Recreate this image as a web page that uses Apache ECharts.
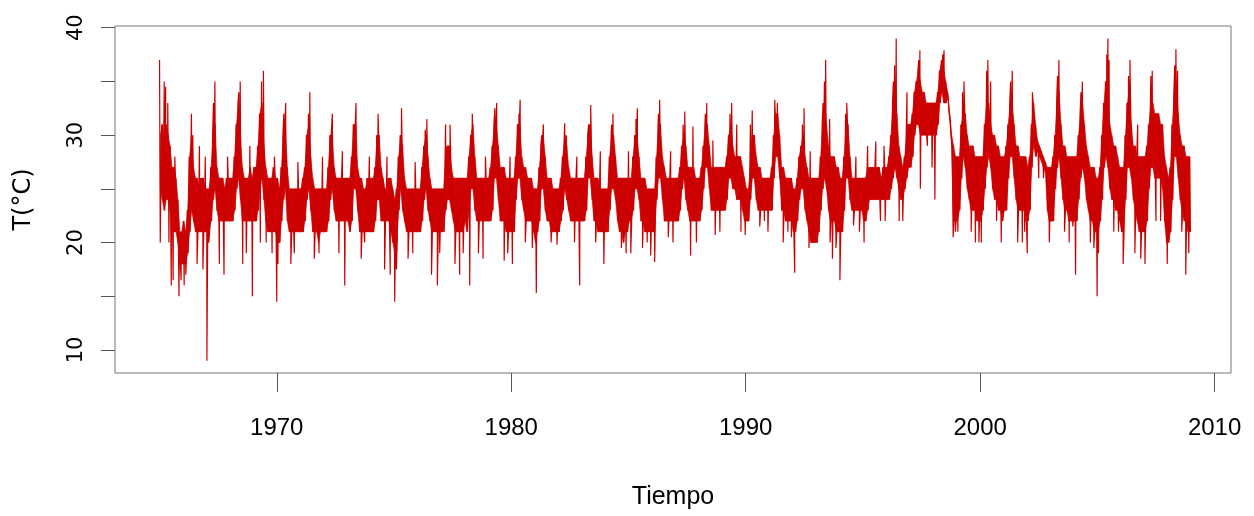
<!DOCTYPE html>
<html><head><meta charset="utf-8">
<script src="https://cdn.jsdelivr.net/npm/echarts@6/dist/echarts.min.js"></script>
<style>html,body{margin:0;padding:0;background:#fff}#c{width:1254px;height:516px}</style>
</head><body><div id="c"></div>
<script>
// Years covered by the daily series (one row of monthly values per year)
const years = [1965,1966,1967,1968,1969,1970,1971,1972,1973,1974,1975,1976,1977,1978,1979,1980,1981,1982,1983,1984,1985,1986,1987,1988,1989,1990,1991,1992,1993,1994,1995,1996,1997,1998,1999,2000,2001,2002,2003,2004,2005,2006,2007,2008];
// Upper edge of the dense band, month by month (°C)
const monthHi = [
[30,31,30,31,30,29,27,27,26,24,21,21],
[22,21,23,28,30,27,26,26,25,26,26,25],
[25,25,27,30,31,27,26,26,26,25,26,26],
[26,26,28,31,33,30,27,26,26,26,27,26],
[27,27,29,32,33,29,27,26,26,26,27,26],
[26,25,27,30,31,27,25,25,25,25,25,25],
[25,26,27,30,31,28,26,25,25,25,25,25],
[25,25,27,30,30,27,26,26,26,26,26,26],
[26,26,28,31,31,27,26,26,25,25,26,26],
[26,26,27,30,30,27,26,25,25,26,26,25],
[24,25,28,30,29,26,25,25,25,25,25,25],
[25,25,27,29,30,28,26,25,25,25,25,25],
[25,25,28,29,29,27,26,26,26,26,26,26],
[26,26,28,30,31,28,26,26,26,26,26,26],
[26,27,29,31,31,29,27,27,27,26,26,26],
[26,26,28,31,31,28,27,27,26,26,26,25],
[25,25,27,29,30,28,26,26,26,25,25,25],
[25,26,28,30,29,27,26,26,26,26,26,26],
[26,26,28,30,31,28,26,26,26,25,25,25],
[25,25,28,30,30,28,26,26,26,26,26,26],
[26,26,28,30,30,28,26,26,26,25,25,25],
[25,25,28,31,31,28,27,26,26,26,26,26],
[26,26,27,29,30,29,27,27,27,27,26,26],
[26,27,29,31,31,29,27,27,27,27,27,27],
[27,27,28,30,31,29,28,28,28,28,27,26],
[25,25,27,30,30,28,27,27,26,26,26,26],
[26,27,30,32,32,30,27,27,26,26,26,26],
[25,25,26,28,29,30,28,27,26,26,26,26],
[26,26,28,31,33,31,29,28,28,28,27,27],
[26,26,28,31,31,28,26,26,26,26,26,26],
[26,26,27,27,27,27,27,27,27,26,27,27],
[27,28,30,33,35,32,29,28,27,28,30,31],
[31,32,34,35,36,35,34,34,33,33,33,33],
[33,33,34,36,37,36,35,34,32,30,29,28],
[28,28,31,32,32,30,29,29,29,28,28,28],
[28,28,31,33,33,31,30,30,29,29,28,28],
[28,29,31,33,33,31,29,29,28,28,28,28],
[27,28,31,33,31,29.5,29,28.5,28,27.5,27,27],
[27,28,30,33,34,31,29,29,28,28,28,28],
[28,28,30,32,33,31,29,28,27,27,27,26],
[26,27,30,33,35,33,31,30,29,29,28,27],
[27,27,30,33,34,31,29,29,28,28,28,28],
[28,29,31,33,33,32,32,32,31,31,28,27],
[26,27,31,34,35,32,30,29,29,28,28,28]
];
// Lower edge of the dense band, month by month (°C)
const monthLo = [
[25,24,23,24,24,23,22,21,21,20,18,18],
[18,18,19,21,23,22,21,21,21,21,21,21],
[21,21,22,24,25,23,22,22,22,22,22,22],
[22,22,23,25,26,24,22,22,22,22,22,22],
[22,22,23,25,26,24,22,21,21,21,21,21],
[20,20,22,24,25,22,21,21,21,21,21,21],
[21,21,22,24,25,23,21,21,21,20,21,21],
[21,21,22,24,25,23,22,22,22,22,22,22],
[22,21,22,25,25,23,21,21,21,21,21,21],
[21,21,22,24,24,22,22,22,22,22,21,20],
[19,20,23,25,23,22,21,21,21,21,21,21],
[21,21,22,24,25,23,22,21,21,21,21,21],
[21,21,23,24,24,23,22,21,21,21,21,21],
[22,21,23,25,25,23,22,22,22,22,22,22],
[22,22,23,26,26,24,22,22,22,21,21,21],
[21,21,24,26,26,24,23,22,22,22,22,21],
[20,21,22,25,25,23,22,22,21,21,21,21],
[21,22,23,25,24,23,22,22,22,22,22,22],
[22,22,23,26,26,24,22,22,21,21,21,21],
[21,21,23,25,25,24,22,21,21,20,21,21],
[22,22,23,25,25,24,22,22,21,21,21,21],
[21,21,24,26,26,24,22,22,22,22,22,22],
[22,22,23,25,26,24,23,22,22,22,22,22],
[22,23,25,27,27,25,23,23,23,23,23,23],
[23,23,24,26,26,25,25,24,24,24,23,22],
[22,22,24,26,26,24,23,23,23,23,23,23],
[23,23,26,28,28,26,23,23,22,22,22,22],
[21,21,22,24,25,25,23,22,21,20,20,20],
[20,21,23,25,26,25,23,22,22,22,21,21],
[21,21,23,26,26,24,23,23,23,23,23,23],
[22,22,23,24,24,24,24,24,24,24,24,24],
[24,24,25,26,27,26,25,24,24,25,26,27],
[27,28,30,31,31,30,30,30,30,30,30,30],
[30,30,31,33,34,33,33,33.5,31.5,29,22,22],
[22,23,26,28,27,25,24,23,23,23,22,22],
[22,23,25,27,28,27,25,24,24,23,23,22],
[23,23,26,28,28,26,24,23,23,23,23,22],
[22,23,27,29,28,28.5,28,27.5,27,26.5,23,22],
[22,22,25,27,28,26,24,23,23,22,22,22],
[22,22,24,26,27,26,24,23,22,22,21,21],
[21,22,24,27,28,27,25,24,24,23,23,22],
[21,21,24,27,27,26,24,23,22,21,21,21],
[21,22,25,27,27,26,26,26,26,25,22,20],
[20,21,24,28,28,26,24,23,22,22,21,21]
];
// Isolated extreme days [decimal year, °C]
const spikes = [
[1965.0,37],[1965.03,20],[1965.2,35],[1965.26,34.5],[1965.35,33],[1965.4,20],[1965.5,16],[1965.58,16.5],[1965.65,28],[1965.83,15],[1965.92,16.5],
[1966.05,16],[1966.12,17],[1966.36,32],[1966.42,30],[1966.6,18],[1966.7,29],[1966.85,17.5],[1966.95,28],
[1967.02,9],[1967.1,20],[1967.3,33],[1967.36,35],[1967.55,18],[1967.75,17],[1967.9,28],
[1968.38,34],[1968.44,35],[1968.55,18],[1968.7,19],[1968.85,29],[1968.96,15],
[1969.3,20],[1969.35,35],[1969.43,36],[1969.55,20],[1969.8,19],[1969.9,28],
[1970.0,14.5],[1970.05,18],[1970.3,32],[1970.38,33],[1970.6,18],[1970.75,19],[1970.9,27.5],
[1971.35,32],[1971.41,34],[1971.6,18.5],[1971.8,19],[1971.95,28],
[1972.32,30],[1972.37,32],[1972.65,19],[1972.8,28.5],[1972.9,16],
[1973.3,31],[1973.38,33],[1973.6,18.5],[1973.75,20],[1973.95,28],
[1974.32,32],[1974.6,17.5],[1974.7,28],[1974.84,17],
[1975.03,14.5],[1975.1,17.5],[1975.32,32.5],[1975.6,18.5],[1975.8,19],[1975.9,27.5],
[1976.33,30.5],[1976.4,31.5],[1976.6,17],[1976.85,16],[1976.95,19],
[1977.2,31],[1977.39,31],[1977.6,18],[1977.8,17],[1977.95,19],
[1978.23,16],[1978.34,32],[1978.6,19],[1978.8,18.5],[1978.9,28],
[1979.3,32.5],[1979.38,33],[1979.7,18.3],[1979.85,19],[1979.95,28],
[1980.05,18],[1980.33,32],[1980.38,33.3],[1980.6,20],[1980.9,19.5],
[1981.07,15.3],[1981.3,30],[1981.37,31],[1981.7,20],[1981.95,19.8],
[1982.28,31.1],[1982.35,30],[1982.7,20],[1982.8,28],[1982.92,16],
[1983.3,31],[1983.39,32.8],[1983.6,20],[1983.8,28.5],[1983.95,18],
[1984.28,31],[1984.34,32],[1984.7,19.5],[1984.9,19],[1985.0,28.5],
[1985.1,19],[1985.32,31.5],[1985.38,32.5],[1985.6,19.5],[1985.8,20],[1985.95,18.8],
[1986.12,18.2],[1986.28,32],[1986.33,33.3],[1986.7,20.5],[1986.8,28.5],[1986.9,20],
[1987.33,31],[1987.4,32.2],[1987.65,18.8],[1987.75,30.8],[1987.9,20],
[1988.28,32],[1988.34,33],[1988.6,29.5],[1988.7,20.7],[1988.9,21],
[1989.33,32],[1989.4,33],[1989.62,31],[1989.8,21],[1989.98,20.7],
[1990.2,31],[1990.28,32.3],[1990.6,21.5],[1990.8,22],[1990.95,21],
[1991.24,33.3],[1991.35,33],[1991.6,20],[1991.8,21],[1991.95,20.5],
[1992.09,17.2],[1992.42,31],[1992.49,32.5],[1992.7,19.5],[1992.75,28.5],[1992.85,20],
[1993.3,33],[1993.36,35],[1993.41,37],[1993.58,31.5],[1993.6,20],[1993.7,18.5],[1993.85,19.5],
[1994.02,16.5],[1994.26,32],[1994.31,33],[1994.6,21.6],[1994.7,28],[1994.85,21],
[1995.05,20],[1995.2,29],[1995.55,29.4],[1995.75,22],[1995.9,29],[1995.95,22],
[1996.3,35],[1996.35,36.5],[1996.42,39],[1996.55,22],[1996.7,22],[1996.88,34],
[1997.38,37],[1997.43,37.9],[1997.45,25],[1997.75,29],[1997.95,27],
[1998.07,24],[1998.4,37.5],[1998.46,37.9],[1998.85,20.5],[1998.95,21],
[1999.05,21],[1999.25,34],[1999.31,35],[1999.62,21],[1999.8,20],[1999.95,20],
[2000.05,20],[2000.28,36],[2000.33,37],[2000.45,35],[2000.7,22],[2000.9,20],
[2001.3,35],[2001.37,36],[2001.6,20],[2001.8,20],[2001.9,21],
[2002.01,19],[2002.23,34],[2002.5,26],[2002.7,26],[2002.95,20],
[2003.3,35.5],[2003.36,37],[2003.6,21],[2003.8,20],[2003.95,21.5],
[2004.07,17],[2004.3,34],[2004.36,35],[2004.7,20],[2004.85,19.5],[2004.99,15],
[2005.05,19],[2005.4,37.5],[2005.45,39],[2005.5,37],[2005.7,21],[2005.9,21],
[2006.1,18],[2006.33,35.5],[2006.39,37],[2006.6,19],[2006.72,31],[2006.85,18.5],
[2007.03,18],[2007.28,35.5],[2007.34,36],[2007.5,22],[2007.7,22],[2007.98,18],
[2008.3,36.5],[2008.35,38],[2008.42,36],[2008.6,21],[2008.77,17],[2008.9,19]
];
const xTicks = [1970,1980,1990,2000,2010];
const yTicks = [10,15,20,25,30,35,40];
const yLabels = [10,20,30,40];

// Time-ordered line: monthly high, then monthly low, plus spike days
const pts = [];
// Band core: one [time, hi, lo] per month
const band = [];
years.forEach((y, i) => {
  for (let m = 0; m < 12; m++) {
    pts.push([y + (m + 0.15) / 12, monthHi[i][m]]);
    pts.push([y + (m + 0.65) / 12, monthLo[i][m]]);
    band.push([y + (m + 0.4) / 12, monthHi[i][m], monthLo[i][m]]);
  }
});
spikes.forEach(s => pts.push([s[0], s[1]]));
pts.sort((a, b) => a[0] - b[0]);

const RED = '#CD0000';
const sans = "'Liberation Sans',Arial,sans-serif";
const chart = echarts.init(document.getElementById('c'), null, {renderer: 'canvas'});
chart.setOption({
  animation: false,
  backgroundColor: '#fff',
  grid: {left: 115, top: 26, width: 1116, height: 347, show: true, borderColor: '#777', borderWidth: 1, backgroundColor: 'transparent'},
  xAxis: {
    type: 'value', min: 1963.1, max: 2010.7,
    splitLine: {show: false}, axisLine: {show: false},
    axisTick: {show: true, customValues: xTicks, length: 19, lineStyle: {color: '#555', width: 1}},
    axisLabel: {customValues: xTicks, margin: 43, fontSize: 24, fontFamily: sans, color: '#000', formatter: v => String(v)},
    name: 'Tiempo', nameLocation: 'middle', nameGap: 112,
    nameTextStyle: {fontSize: 25, fontFamily: sans, color: '#000'}
  },
  yAxis: {
    type: 'value', min: 7.86, max: 40.16,
    splitLine: {show: false}, axisLine: {show: false},
    axisTick: {show: true, customValues: yTicks, length: 14, lineStyle: {color: '#555', width: 1}},
    axisLabel: {customValues: yLabels, rotate: 90, margin: 28, fontSize: 21, fontFamily: "'DejaVu Sans',sans-serif", color: '#000', formatter: v => String(v)},
    name: 'T(°C)', nameLocation: 'middle', nameRotate: 90, nameGap: 79,
    nameTextStyle: {fontSize: 24, fontFamily: "'DejaVu Sans',sans-serif", color: '#000'}
  },
  series: [{
    type: 'custom', silent: true, clip: true,
    data: band,
    encode: {x: 0, y: [1, 2]},
    renderItem: function (params, api) {
      const i = params.dataIndex;
      if (i >= band.length - 1) return null;
      const p = band[i], q = band[i + 1];
      const pts4 = [api.coord([p[0], p[1]]), api.coord([q[0], q[1]]), api.coord([q[0], q[2]]), api.coord([p[0], p[2]])];
      return {type: 'polygon', shape: {points: pts4}, style: {fill: RED, stroke: RED, lineWidth: 0.6}};
    }
  }, {
    type: 'line', data: pts, symbol: 'none', showSymbol: false, silent: true,
    lineStyle: {color: RED, width: 1.2}, clip: true
  }]
});
</script></body></html>
